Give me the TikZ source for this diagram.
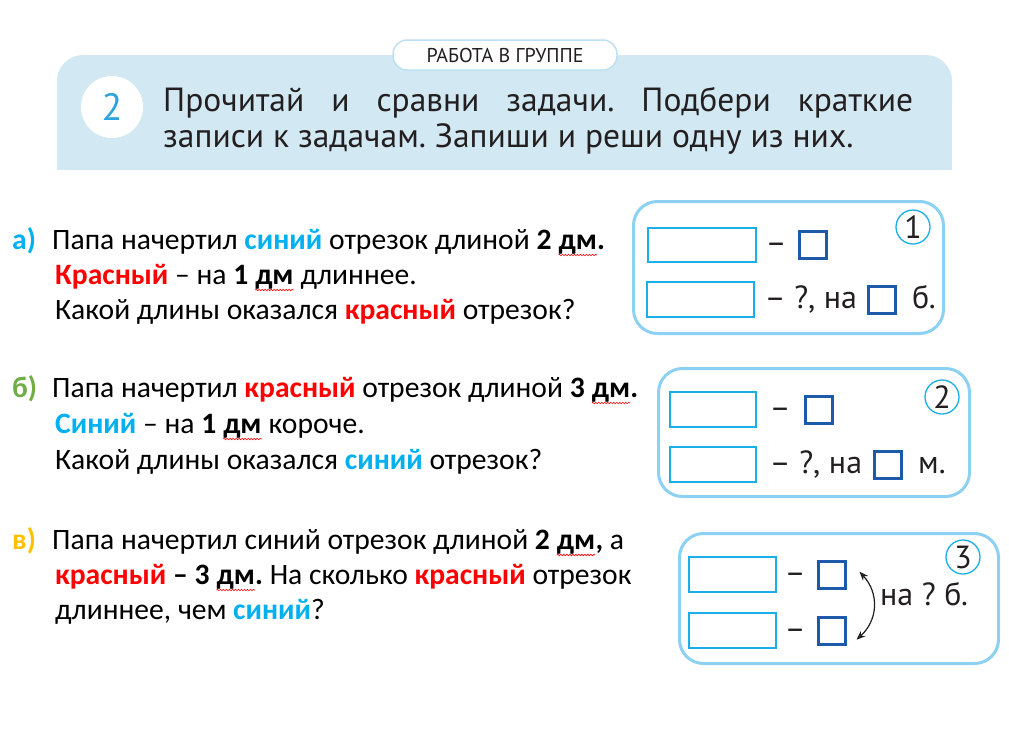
\documentclass[tikz,border=0pt]{standalone}
\usepackage{fontspec}
\setmainfont{Carlito}
\newfontfamily\ptsans{PT Sans}
\usetikzlibrary{positioning,arrows.meta,decorations.pathmorphing}
\frenchspacing

\definecolor{banner}{RGB}{210,232,243}
\definecolor{pillline}{RGB}{190,225,242}
\definecolor{numblue}{RGB}{45,165,220}
\definecolor{panelline}{RGB}{140,208,242}
\definecolor{cellline}{RGB}{25,175,232}
\definecolor{sqline}{RGB}{30,90,170}
\definecolor{wordblue}{RGB}{0,176,240}
\definecolor{wordred}{RGB}{255,0,0}
\definecolor{wordgreen}{RGB}{112,173,71}
\definecolor{wordyellow}{RGB}{255,192,0}
\definecolor{ink}{RGB}{35,31,32}

\newcommand\bluew[1]{\textbf{\textcolor{wordblue}{#1}}}
\newcommand\redw[1]{\textbf{\textcolor{wordred}{#1}}}
\newcommand\spell[1]{\tikz[baseline=(w.base)]{\node[inner sep=0pt,outer sep=0pt,anchor=base](w){#1};
	\draw[wordred,line width=0.6pt,decorate,decoration={snake,amplitude=0.8pt,segment length=3pt}]
		([yshift=-6pt]w.base west) -- ([yshift=-6pt]w.base east);}}

\tikzset{
	txt/.style={anchor=base west,inner sep=0pt,font=\fontsize{29.6}{35}\selectfont},
	lbl/.style={txt,font=\fontsize{29.6}{35}\selectfont\bfseries},
	title/.style={anchor=base west,inner sep=0pt,text=ink,font=\ptsans\fontsize{33.5}{33.5}\selectfont},
	pill/.style={fill=white,draw=pillline,line width=1.5pt,rounded corners=14pt,minimum width=224pt,minimum height=30pt,text=ink,font=\ptsans\fontsize{20}{20}\selectfont},
	panel/.style={draw=panelline,line width=3pt,rounded corners=24pt,anchor=north west,inner sep=0pt},
	cell/.style={draw=cellline,line width=2.4pt,anchor=north west,inner sep=0pt},
	sq/.style={draw=sqline,line width=2.6pt,minimum size=27pt,inner sep=0pt},
	bx/.style={inner sep=0pt,text height=23pt,text depth=6pt,text=ink,font=\ptsans\fontsize{32}{32}\selectfont},
	num/.style={circle,draw=cellline,line width=1.3pt,minimum size=34pt,inner sep=0pt,text=ink,font=\ptsans\fontsize{32}{32}\selectfont},
	arr/.style={{Stealth[length=9pt,width=7pt]}-{Stealth[length=9pt,width=7pt]},line width=1.2pt,draw=ink}
}

\begin{document}
\begin{tikzpicture}[x=1pt,y=-1pt]
	\useasboundingbox (0,0) rectangle (1009,739);
	\fill[white] (0,0) rectangle (1009,739);

	% header
	\fill[banner,rounded corners=26pt] (57,55) rectangle (952,130);
	\fill[banner] (57,100) rectangle (952,170);
	\node[pill] (tag) at (505,55) {РАБОТА В ГРУППЕ};
	\node[circle,fill=white,minimum size=62pt,inner sep=0pt,text=numblue,font=\ptsans\fontsize{38}{38}\selectfont] (no) at (112,107) {2};
	\node[title] (t1) at (163,111) {\makebox[750pt][s]{Прочитай и сравни задачи. Подбери краткие}};
	\node[title] (t2) [below=36pt of t1.base west,anchor=base west] {записи к задачам. Запиши и реши одну из них.};

	% task a
	\node[lbl,text=wordblue] (la) at (12,249) {а)};
	\node[txt] (a1) at (52,249) {Папа начертил \bluew{синий} отрезок длиной \textbf{2 \spell{дм}.}};
	\node[txt] (a2) [below=35pt of a1.base west,anchor=base west,xshift=3pt] {\redw{Красный} – на \textbf{1 \spell{дм}} длиннее.};
	\node[txt] (a3) [below=35pt of a2.base west,anchor=base west] {Какой длины оказался \redw{красный} отрезок?};

	% task b
	\node[lbl,text=wordgreen] (lb) at (12,397) {б)};
	\node[txt] (b1) at (52,397) {Папа начертил \redw{красный} отрезок длиной \textbf{3 \spell{дм}.}};
	\node[txt] (b2) [below=36pt of b1.base west,anchor=base west,xshift=3pt] {\bluew{Синий} – на \textbf{1 \spell{дм}} короче.};
	\node[txt] (b3) [below=36pt of b2.base west,anchor=base west] {Какой длины оказался \bluew{синий} отрезок?};

	% task v
	\node[lbl,text=wordyellow] (lv) at (12,549) {в)};
	\node[txt] (v1) at (52,549) {Папа начертил синий отрезок длиной \textbf{2 \spell{дм},} а};
	\node[txt] (v2) [below=35pt of v1.base west,anchor=base west,xshift=3pt] {\redw{красный} \textbf{– 3 \spell{дм}.} На сколько \redw{красный} отрезок};
	\node[txt] (v3) [below=35pt of v2.base west,anchor=base west] {длиннее, чем \bluew{синий}?};

	% scheme 1
	\node[panel,minimum width=310pt,minimum height=132pt] (p1) at (632,200) {};
	\node[cell,minimum width=108pt,minimum height=34pt] (r11) at (647,227) {};
	\node[bx,right=8pt of r11] (d11) {–};
	\node[sq,right=11pt of d11] (q11) {};
	\node[num] (c1) at (913,227) {1};
	\node[cell,minimum width=107pt,minimum height=35pt] (r12) at (646,281) {};
	\node[bx,right=9pt of r12] (d12) {– ?, на};
	\node[sq,right=10pt of d12] (q12) {};
	\node[bx,right=15pt of q12] (u12) {б.};

	% scheme 2
	\node[panel,minimum width=311pt,minimum height=128pt] (p2) at (657,367) {};
	\node[cell,minimum width=86pt,minimum height=35pt] (r21) at (669,391) {};
	\node[bx,right=12pt of r21] (d21) {–};
	\node[sq,right=13pt of d21] (q21) {};
	\node[num] (c2) at (942,397) {2};
	\node[cell,minimum width=86pt,minimum height=35pt] (r22) at (669,446) {};
	\node[bx,right=12pt of r22] (d22) {– ?, на};
	\node[sq,right=11pt of d22] (q22) {};
	\node[bx,right=15pt of q22] (u22) {м.};

	% scheme 3
	\node[panel,minimum width=319pt,minimum height=130pt] (p3) at (678,532) {};
	\node[cell,minimum width=87pt,minimum height=35pt] (r31) at (688,556) {};
	\node[bx,right=7pt of r31] (d31) {–};
	\node[sq,right=11pt of d31] (q31) {};
	\node[num] (c3) at (963,557) {3};
	\node[cell,minimum width=87pt,minimum height=35pt] (r32) at (688,612) {};
	\node[bx,right=7pt of r32] (d32) {–};
	\node[sq,right=11pt of d32] (q32) {};
	\node[bx,anchor=base west] (u3) at (880,605) {на ? б.};
	\draw[arr] ([xshift=13pt,yshift=3pt]q31.east) to[bend left=45,looseness=1.1] ([xshift=10pt,yshift=-9pt]q32.east);
\end{tikzpicture}
\end{document}
